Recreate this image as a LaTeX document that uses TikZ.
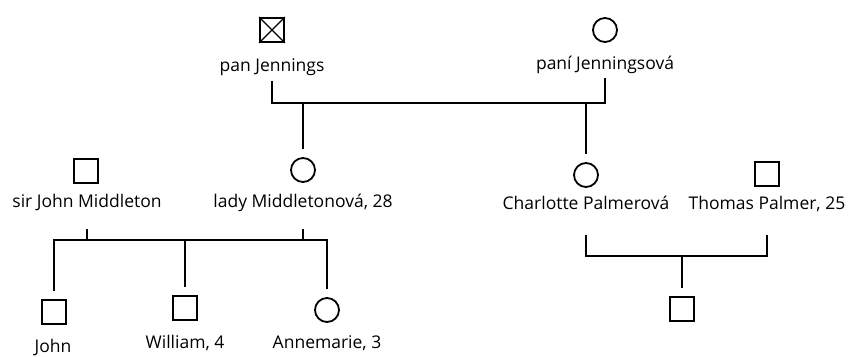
\documentclass[tikz,border=0pt]{standalone}
\usepackage{fontspec}
\setmainfont{Open Sans}

\begin{document}
\begin{tikzpicture}[
  x=1pt, y=-1pt,
  line width=1.8pt,
  male/.style={draw, rectangle, minimum size=24pt, inner sep=0pt},
  female/.style={draw, circle, minimum size=24pt, inner sep=0pt},
  pname/.style={anchor=base, inner sep=0pt, text depth=4pt,
    font=\fontsize{17.5}{21}\selectfont},
  drop/.style={shorten >=8pt}
]
\useasboundingbox (0,0) rectangle (851,356);

% grandparents
\node [male] (pj) at (272,30) {};
\draw [line width=1.4pt] (pj.north west) -- (pj.south east)
  (pj.north east) -- (pj.south west);
\node [pname] (pjN) at (272,71) {pan Jennings};
\node [female] (pjs) at (605,30) {};
\node [pname] (pjsN) at (605,69) {paní Jenningsová};

% parents
\node [male] (sjm) at (86,171) {};
\node [pname] (sjmN) at (87,207) {sir John Middleton};
\node [female] (lm) at (303,170) {};
\node [pname] (lmN) at (303,207) {lady Middletonová, 28};
\node [female] (cp) at (586,175) {};
\node [pname] (cpN) at (586,209) {Charlotte Palmerová};
\node [male] (tp) at (767,174) {};
\node [pname] (tpN) at (767,209) {Thomas Palmer, 25};

% children
\node [male] (jo) at (54,312) {};
\node [pname] (joN) at (53,352) {John};
\node [male] (wi) at (185,308) {};
\node [pname] (wiN) at (185,348) {William, 4};
\node [female] (an) at (327,310) {};
\node [pname] (anN) at (327,348) {Annemarie, 3};
\node [male] (ch) at (682,309) {};

\coordinate (m1) at (303,103);
\coordinate (m1b) at (586,103);
\coordinate (m2) at (185,240);
\coordinate (m3) at (682,256);

\draw [shorten <=5pt, shorten >=4pt] (pjN.south) |- (m1) -| (pjsN.south);
\draw [drop] (m1) -- (lm);
\draw [drop] (m1b) -- (cp);

\draw [shorten <=17pt, shorten >=17pt] (sjmN.south) |- (m2) -| (lmN.south);
\draw [drop] (m2) -- (wi);
\draw [drop] (m2) -| (jo);
\draw [drop] (m2) -| (an);

\draw [shorten <=21pt, shorten >=21pt] (cpN.south) |- (m3) -| (tpN.south);
\draw [drop] (m3) -- (ch);
\end{tikzpicture}
\end{document}
